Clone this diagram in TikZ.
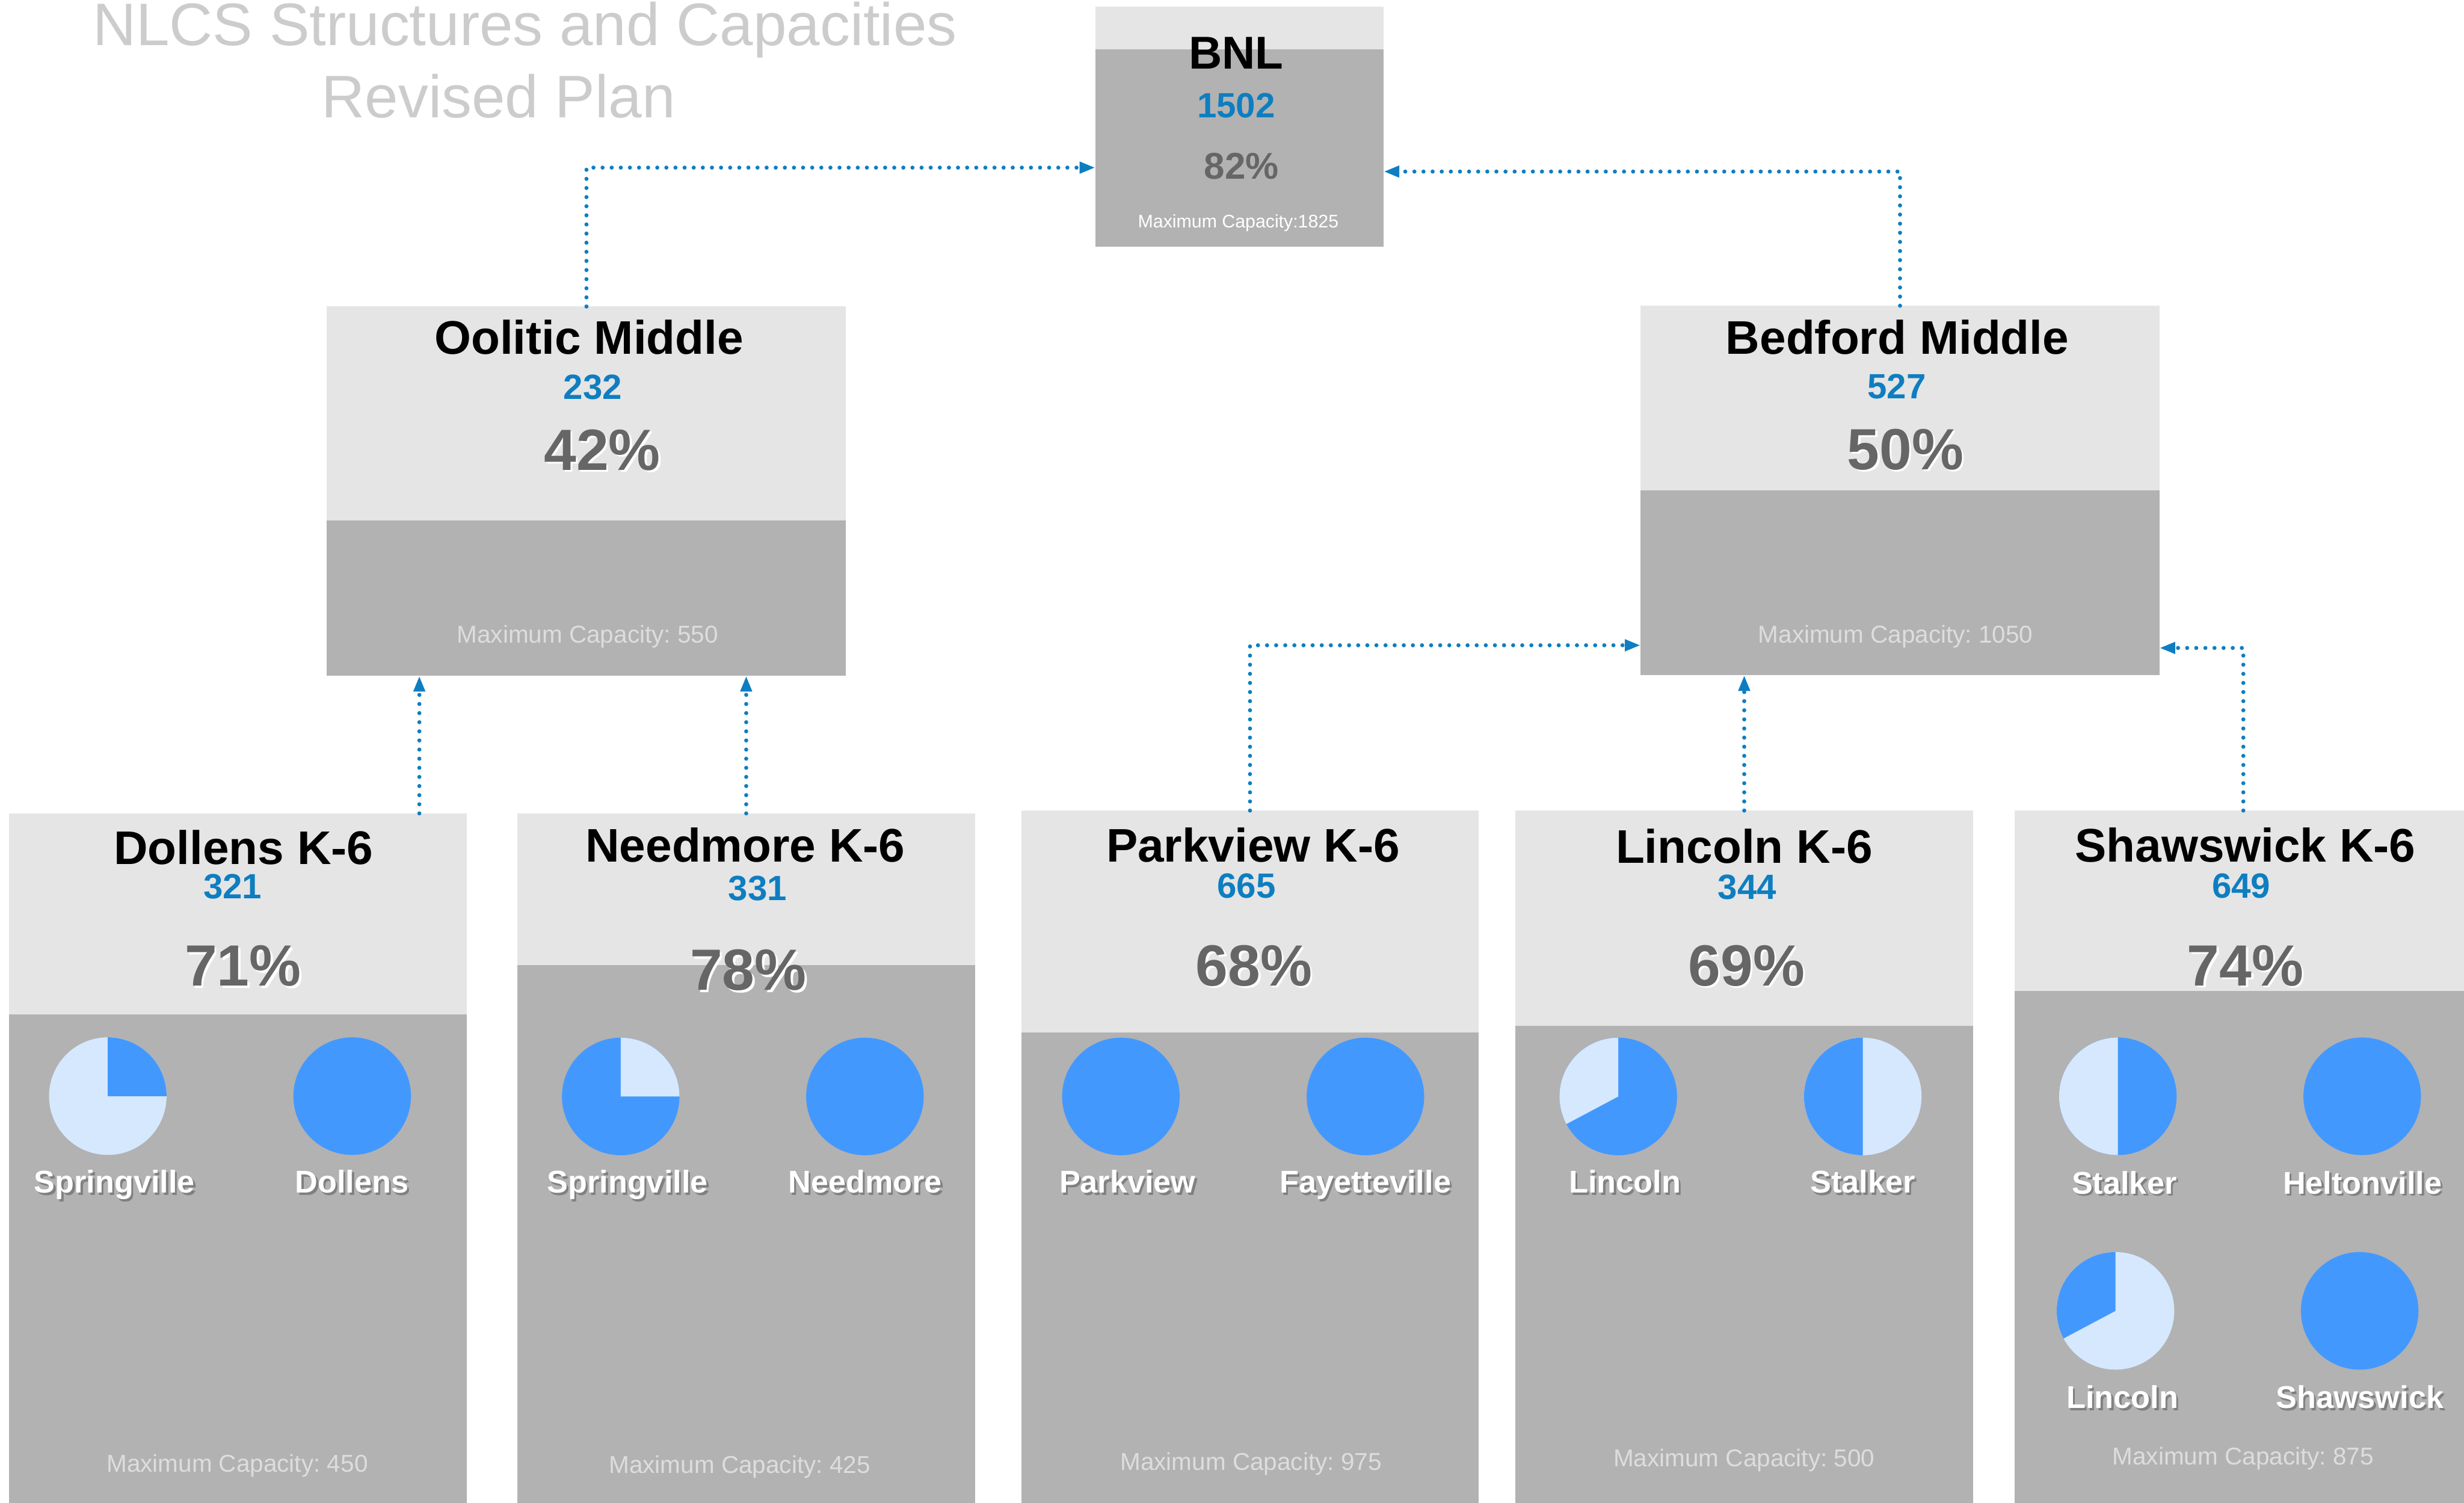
\documentclass[tikz,border=0pt]{standalone}
\usepackage{fontspec}
\setmainfont{Liberation Sans}
\usetikzlibrary{arrows.meta}
\frenchspacing

\definecolor{bandgray}{HTML}{E5E5E5}
\definecolor{boxgray}{HTML}{B2B2B2}
\definecolor{numblue}{HTML}{0E7EC1}
\definecolor{pctgray}{HTML}{666666}
\definecolor{maxgray}{HTML}{DDDDDD}
\definecolor{titlegray}{HTML}{CCCCCC}
\definecolor{pieblue}{HTML}{4398FE}
\definecolor{pielight}{HTML}{D6E8FE}

\newcommand{\shadowed}[2]{\makebox[0pt][l]{\kern1.3pt\raisebox{-1.3pt}{\textcolor{#1}{#2}}}#2}

\tikzstyle{headline} = [anchor=base, inner sep=0pt, font=\fontsize{38.2}{45}\selectfont, text=titlegray]
\tikzstyle{schoolbox} = [rectangle, anchor=north west, fill=boxgray, inner sep=0pt, outer sep=0pt]
\tikzstyle{boxtitle} = [anchor=base, inner sep=0pt, font=\fontsize{30}{36}\selectfont\bfseries, text=black]
\tikzstyle{enrolled} = [anchor=base, inner sep=0pt, font=\fontsize{22.3}{27}\selectfont\bfseries, text=numblue]
\tikzstyle{percent} = [anchor=base, inner sep=0pt, font=\fontsize{37}{44}\selectfont\bfseries, text=pctgray]
\tikzstyle{maxcap} = [anchor=base, inner sep=0pt, font=\fontsize{15.5}{19}\selectfont, text=maxgray]
\tikzstyle{pie} = [circle, minimum size=74.8pt, inner sep=0pt, outer sep=0pt, fill=pieblue]
\tikzstyle{pielabel} = [anchor=base, inner sep=0pt, font=\fontsize{20}{24}\selectfont\bfseries, text=white]
\tikzstyle{link} = [draw=numblue, line width=2.6pt, dash pattern=on 0pt off 5.8pt, line cap=round, -{Triangle[length=10pt,width=7pt]}]

\begin{document}
\begin{tikzpicture}[x=1pt, y=-1pt]
	\useasboundingbox (0,0) rectangle (1568,956);
	\fill[white] (0,0) rectangle (1568,956);

	\node (title1) [headline] at (334,29) {NLCS Structures and Capacities};
	\node (title2) [headline] at (317.3,74.8) {Revised Plan};

	% top level
	\node (bnl) [schoolbox, minimum width=183.5pt, minimum height=152.7pt] at (697,4.3) {};
		\fill[bandgray] (bnl.north west) rectangle ([yshift=-27.1pt]bnl.north east);
	\node (bnl-name) [boxtitle, font=\fontsize{29.3}{35}\selectfont\bfseries] at (786.6,44) {BNL};
	\node (bnl-count) [enrolled] at (786.6,75) {1502};
	\node (bnl-pct) [percent, font=\fontsize{23.7}{28}\selectfont\bfseries] at (790,114) {82\%};
	\node (bnl-max) [maxcap, font=\fontsize{11.6}{14}\selectfont, text=white] at (788,145) {Maximum Capacity:1825};

	% middle schools
	\node (oolitic) [schoolbox, minimum width=330.4pt, minimum height=235pt] at (208,195) {};
		\fill[bandgray] (oolitic.north west) rectangle ([yshift=-136.2pt]oolitic.north east);
	\node (oolitic-name) [boxtitle] at (374.8,225.4) {Oolitic Middle};
	\node (oolitic-count) [enrolled] at (377.2,254) {232};
	\node (oolitic-pct) [percent] at (383.2,299) {\shadowed{white}{42\%}};
	\node (oolitic-max) [maxcap] at (373.9,408.9) {Maximum Capacity: 550};

	\node (bedford) [schoolbox, minimum width=330.2pt, minimum height=235.1pt] at (1044,194.5) {};
		\fill[bandgray] (bedford.north west) rectangle ([yshift=-117.5pt]bedford.north east);
	\node (bedford-name) [boxtitle] at (1207.4,225.4) {Bedford Middle};
	\node (bedford-count) [enrolled] at (1207,253.7) {527};
	\node (bedford-pct) [percent] at (1212.5,298.8) {\shadowed{white}{50\%}};
	\node (bedford-max) [maxcap] at (1206.3,408.9) {Maximum Capacity: 1050};

	% elementary schools
	\node (dollens) [schoolbox, minimum width=291.1pt, minimum height=445pt] at (5.8,517.5) {};
		\fill[bandgray] (dollens.north west) rectangle ([yshift=-128.1pt]dollens.north east);
	\node (dollens-name) [boxtitle] at (155,549.9) {Dollens K-6};
	\node (dollens-count) [enrolled] at (148,571.6) {321};
	\node (dollens-pct) [percent] at (154.6,627.3) {\shadowed{white}{71\%}};
	\node (dollens-pie1) [pie, fill=pielight] at (68.6,697.4) {};
		\fill[pieblue] (dollens-pie1.center) -- (dollens-pie1.north) arc[start angle=90, end angle=0, radius=37.4pt] -- cycle;
	\node (dollens-pie2) [pie] at (224.1,697.4) {};
	\node (dollens-lab1) [pielabel] at (72.9,759) {\shadowed{black!50}{Springville}};
	\node (dollens-lab2) [pielabel] at (224,759) {\shadowed{black!50}{Dollens}};
	\node (dollens-max) [maxcap] at (151,936.5) {Maximum Capacity: 450};

	\node (needmore) [schoolbox, minimum width=291.1pt, minimum height=445pt] at (329.3,517.5) {};
		\fill[bandgray] (needmore.north west) rectangle ([yshift=-96.7pt]needmore.north east);
	\node (needmore-name) [boxtitle] at (474.3,548.3) {Needmore K-6};
	\node (needmore-count) [enrolled] at (482.1,572.9) {331};
	\node (needmore-pct) [percent] at (476.2,630) {\shadowed{white}{78\%}};
	\node (needmore-pie1) [pie] at (395,697.6) {};
		\fill[pielight] (needmore-pie1.center) -- (needmore-pie1.north) arc[start angle=90, end angle=0, radius=37.4pt] -- cycle;
	\node (needmore-pie2) [pie] at (550.4,697.6) {};
	\node (needmore-lab1) [pielabel] at (399.3,759) {\shadowed{black!50}{Springville}};
	\node (needmore-lab2) [pielabel] at (550.5,759) {\shadowed{black!50}{Needmore}};
	\node (needmore-max) [maxcap] at (470.7,937.4) {Maximum Capacity: 425};

	\node (parkview) [schoolbox, minimum width=291.1pt, minimum height=445pt] at (649.9,515.7) {};
		\fill[bandgray] (parkview.north west) rectangle ([yshift=-141.3pt]parkview.north east);
	\node (parkview-name) [boxtitle] at (797.4,548.3) {Parkview K-6};
	\node (parkview-count) [enrolled] at (793.2,571.5) {665};
	\node (parkview-pct) [percent] at (798,627.1) {\shadowed{white}{68\%}};
	\node (parkview-pie1) [pie] at (713.3,697.6) {};
	\node (parkview-pie2) [pie] at (868.9,697.6) {};
	\node (parkview-lab1) [pielabel] at (717.5,759) {\shadowed{black!50}{Parkview}};
	\node (parkview-lab2) [pielabel] at (868.9,759) {\shadowed{black!50}{Fayetteville}};
	\node (parkview-max) [maxcap] at (796.1,935.5) {Maximum Capacity: 975};

	\node (lincoln) [schoolbox, minimum width=291.1pt, minimum height=445pt] at (964.4,515.7) {};
		\fill[bandgray] (lincoln.north west) rectangle ([yshift=-137.1pt]lincoln.north east);
	\node (lincoln-name) [boxtitle] at (1109.9,549.2) {Lincoln K-6};
	\node (lincoln-count) [enrolled] at (1111.8,572.2) {344};
	\node (lincoln-pct) [percent] at (1111.4,627.1) {\shadowed{white}{69\%}};
	\node (lincoln-pie1) [pie] at (1029.8,697.6) {};
		\fill[pielight] (lincoln-pie1.center) -- (lincoln-pie1.north) arc[start angle=90, end angle=208, radius=37.4pt] -- cycle;
	\node (lincoln-pie2) [pie, fill=pielight] at (1185.4,697.6) {};
		\fill[pieblue] (lincoln-pie2.center) -- (lincoln-pie2.north) arc[start angle=90, end angle=270, radius=37.4pt] -- cycle;
	\node (lincoln-lab1) [pielabel] at (1034,759) {\shadowed{black!50}{Lincoln}};
	\node (lincoln-lab2) [pielabel] at (1185.4,759) {\shadowed{black!50}{Stalker}};
	\node (lincoln-max) [maxcap] at (1109.9,933) {Maximum Capacity: 500};

	\node (shawswick) [schoolbox, minimum width=291.1pt, minimum height=445pt] at (1282,515.7) {};
		\fill[bandgray] (shawswick.north west) rectangle ([yshift=-114.9pt]shawswick.north east);
	\node (shawswick-name) [boxtitle] at (1428.8,548.3) {Shawswick K-6};
	\node (shawswick-count) [enrolled] at (1426.2,571.5) {649};
	\node (shawswick-pct) [percent] at (1428.9,627.1) {\shadowed{white}{74\%}};
	\node (shawswick-pie1) [pie] at (1347.7,697.5) {};
		\fill[pielight] (shawswick-pie1.center) -- (shawswick-pie1.north) arc[start angle=90, end angle=270, radius=37.4pt] -- cycle;
	\node (shawswick-pie2) [pie] at (1503.2,697.5) {};
	\node (shawswick-pie3) [pie, fill=pielight] at (1346.2,834) {};
		\fill[pieblue] (shawswick-pie3.center) -- (shawswick-pie3.north) arc[start angle=90, end angle=208, radius=37.4pt] -- cycle;
	\node (shawswick-pie4) [pie] at (1501.6,834) {};
	\node (shawswick-lab1) [pielabel] at (1351.8,759.5) {\shadowed{black!50}{Stalker}};
	\node (shawswick-lab2) [pielabel] at (1503.4,759.5) {\shadowed{black!50}{Heltonville}};
	\node (shawswick-lab3) [pielabel] at (1350.7,896) {\shadowed{black!50}{Lincoln}};
	\node (shawswick-lab4) [pielabel] at (1501.7,896) {\shadowed{black!50}{Shawswick}};
	\node (shawswick-max) [maxcap] at (1427.4,932.1) {Maximum Capacity: 875};

	% links
	\draw [link] (oolitic.north) |- ([yshift=-26pt]bnl.west);
	\draw [link] (bedford.north) |- ([yshift=-28.5pt]bnl.east);
	\draw [link] ([xshift=115.5pt]dollens.north) -- ([xshift=115.5pt]dollens.north |- oolitic.south);
	\draw [link] (needmore.north) -- (needmore.north |- oolitic.south);
	\draw [link] (parkview.north) |- ([yshift=-98.5pt]bedford.west);
	\draw [link] (lincoln.north) -- (lincoln.north |- bedford.south);
	\draw [link] (shawswick.north) |- ([yshift=-100.2pt]bedford.east);

\end{tikzpicture}
\end{document}
